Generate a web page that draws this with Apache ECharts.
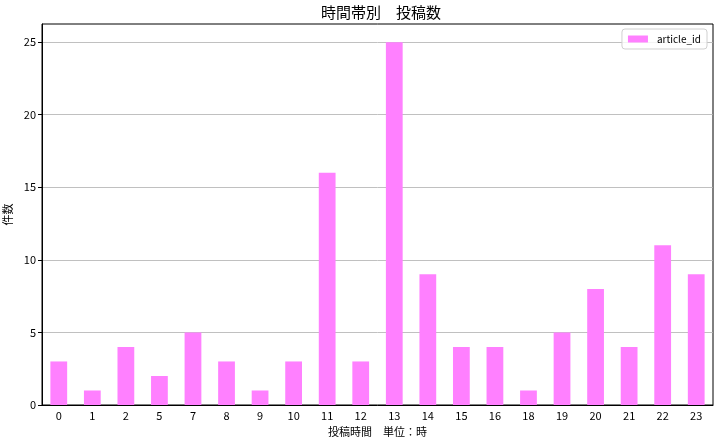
<!DOCTYPE html>
<html><head><meta charset="utf-8">
<script src="https://cdn.jsdelivr.net/npm/echarts@6/dist/echarts.min.js"></script>
<style>html,body{margin:0;padding:0;background:#fff}#c{width:722px;height:443px}</style>
</head><body><div id="c"></div>
<script>
const categories = ['0','1','2','5','7','8','9','10','11','12','13','14','15','16','18','19','20','21','22','23'];
const articleCounts = [3,1,4,2,5,3,1,3,16,3,25,9,4,4,1,5,8,4,11,9];
const yTicks = [0,5,10,15,20,25];
const FONT = '"Noto Sans CJK JP", sans-serif';
const chart = echarts.init(document.getElementById('c'), null, {renderer:'canvas'});
chart.setOption({
  animation:false,
  backgroundColor:'#fff',
  title:{text:'時間帯別　投稿数', left:376, top:0, textAlign:'center',
    textStyle:{fontFamily:FONT, fontSize:15, fontWeight:'normal', color:'#000'}},
  legend:{right:15, top:29, itemWidth:20, itemHeight:7, itemGap:5,
    padding:[5,6,5,6], borderColor:'#d0d0d0', borderWidth:1, borderRadius:3,
    backgroundColor:'rgba(255,255,255,0.8)',
    textStyle:{fontFamily:FONT, fontSize:10, color:'#000', padding:[0,0,0,4]},
    data:[{name:'article_id', icon:'rect'}]},
  grid:{left:42, right:9, top:24, bottom:38, outerBoundsMode:'none', containLabel:false,
    show:true, borderColor:'#000', borderWidth:1, backgroundColor:'transparent'},
  xAxis:{type:'category', data:categories, boundaryGap:true,
    name:'投稿時間　単位：時', nameLocation:'middle', nameGap:21,
    nameTextStyle:{fontFamily:FONT, fontSize:11, color:'#000'},
    axisLine:{lineStyle:{color:'#000', width:1}},
    axisTick:{alignWithLabel:true, length:4, lineStyle:{color:'#000'}},
    axisLabel:{fontFamily:FONT, fontSize:11, color:'#000', margin:5, interval:0},
    splitLine:{show:false}},
  yAxis:{type:'value', min:0, max:26.25, interval:5,
    name:'件数', nameLocation:'middle', nameGap:6, nameRotate:90,
    nameTextStyle:{fontFamily:FONT, fontSize:11, color:'#000'},
    axisLine:{show:true, lineStyle:{color:'#000', width:1}},
    axisTick:{show:true, length:4, lineStyle:{color:'#000'}, customValues:yTicks},
    axisLabel:{fontFamily:FONT, fontSize:11, color:'#000', margin:6, customValues:yTicks,
      formatter:v=> (v%5===0 ? String(v) : '')},
    splitLine:{show:true, lineStyle:{color:'#b0b0b0', width:0.8}}},
  series:[{name:'article_id', type:'bar', data:articleCounts, barWidth:'50%',
    itemStyle:{color:'#ff80ff'}}]
});
</script></body></html>
